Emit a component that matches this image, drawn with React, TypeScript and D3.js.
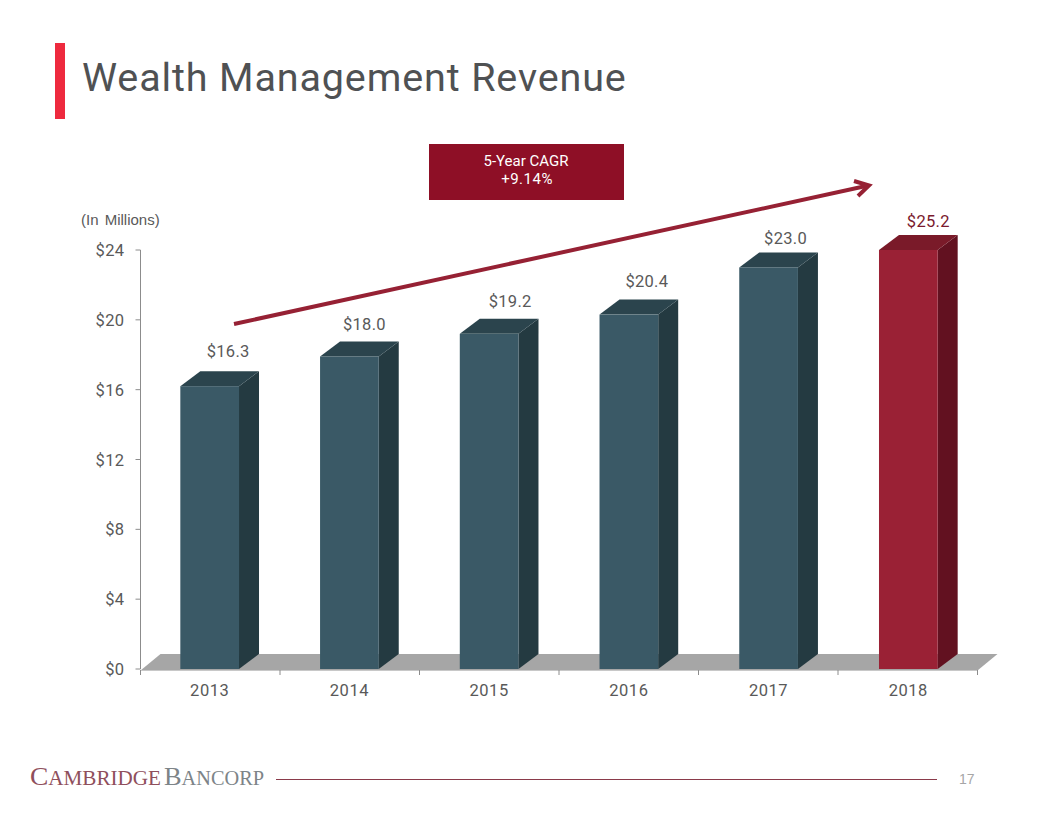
import React from "react";
import * as d3 from "d3";

const years = ["2013", "2014", "2015", "2016", "2017", "2018"];
const barValues = [16.2, 17.9, 19.2, 20.3, 23.0, 25.2];
const valueLabels = ["$16.3", "$18.0", "$19.2", "$20.4", "$23.0", "$25.2"];
const yTicks = [0, 4, 8, 12, 16, 20, 24];
const highlightYear = "2018";

const W = 1056, H = 816;
const FONT = "Roboto, 'Open Sans', sans-serif";
const TEXT = "#595959";

const x = d3.scaleBand<string>().domain(years).range([140.5, 977.5]).paddingInner(0.58).paddingOuter(0.285);
const y = d3.scaleLinear().domain([0, 24]).range([669, 250]).clamp(true);
const DX = 20, DY = 15;

// hand-placed label nudges, as on the slide
const labelShiftX = [18.5, 15, 21, 18, 17, 20];
const labelGap = [14, 11, 12, 13, 8, 8];

const poly = (pts: [number, number][]) => d3.line()(pts) + "Z";

const palette = {
  normal: { front: "#3a5966", top: "#2b444d", side: "#243a41" },
  hi: { front: "#9a2135", top: "#7a1a29", side: "#621120" },
};

export default function App() {
  const x0 = x.range()[0], x1 = x.range()[1], y0 = y(0);
  return (
    <svg width={W} height={H} style={{ position: "absolute", left: 0, top: 0, background: "#fff" }} fontFamily={FONT}>
      <rect x={55} y={43} width={10} height={76} fill="#ee2a3e" />
      <text x={82} y={91} fontSize={39.5} fill="#4f5153" letterSpacing={0.87}>Wealth Management Revenue</text>

      <rect x={429} y={144} width={195} height={56} fill="#8e0f26" />
      <text x={526} y={166} fontSize={15} fill="#fff" textAnchor="middle">5-Year CAGR</text>
      <text x={527} y={184} fontSize={15} fill="#fff" textAnchor="middle" letterSpacing={0.5}>+9.14%</text>

      <text x={81} y={225} fontSize={15} wordSpacing={2} fill={TEXT} fontFamily="'Liberation Sans', sans-serif">(In Millions)</text>

      {/* floor */}
      <path d={poly([[x0, y0 + 1.5], [x0 + DX, y0 - DY], [x1 + DX, y0 - DY], [x1, y0 + 1.5]])} fill="#a6a6a6" />

      {/* axes */}
      <line x1={x0} x2={x0} y1={y(24)} y2={y0} stroke="#8c8c8c" />
      <line x1={x0} x2={x1} y1={y0 + 1.5} y2={y0 + 1.5} stroke="#c8c8c8" />
      {yTicks.map(t => (
        <g key={t}>
          <line x1={x0 - 5} x2={x0} y1={y(t)} y2={y(t)} stroke="#8c8c8c" />
          <text x={x0 - 16} y={y(t) + 6} fontSize={16.5} fill={TEXT} textAnchor="end" letterSpacing={0.4}>{"$" + t}</text>
        </g>
      ))}
      {d3.range(7).map(i => {
        const px = x0 + (i * (x1 - x0)) / 6;
        return <line key={i} x1={px} x2={px} y1={y0 + 1} y2={y0 + 6} stroke="#8c8c8c" />;
      })}
      {years.map(yr => (
        <text key={yr} x={x(yr)! + x.bandwidth() / 2} y={696} fontSize={16.5} fill={TEXT} textAnchor="middle" letterSpacing={0.5}>{yr}</text>
      ))}

      {/* bars */}
      {years.map((yr, i) => {
        const bx = x(yr)!, bw = x.bandwidth(), top = y(barValues[i]);
        const c = yr === highlightYear ? palette.hi : palette.normal;
        return (
          <g key={yr}>
            <path d={poly([[bx + bw, top], [bx + bw + DX, top - DY], [bx + bw + DX, y0 - DY], [bx + bw, y0]])} fill={c.side} />
            <path d={poly([[bx, top], [bx + DX, top - DY], [bx + bw + DX, top - DY], [bx + bw, top]])} fill={c.top} />
            <rect x={bx} y={top} width={bw} height={y0 - top} fill={c.front} />
            <text x={bx + bw / 2 + labelShiftX[i]} y={top - DY - labelGap[i]}
              fontSize={16.5} textAnchor="middle" letterSpacing={0.3}
              fill={yr === highlightYear ? "#7a1a2e" : TEXT}>{valueLabels[i]}</text>
          </g>
        );
      })}

      {/* trend arrow */}
      <line x1={234} y1={324} x2={866} y2={186} stroke="#962134" strokeWidth={4} />
      <path d="M854,181 L869,185.5 L858,196" fill="none" stroke="#962134" strokeWidth={4} />

      {/* footer */}
      <text x={30} y={785} fontFamily="'Liberation Serif', serif" fontSize={26} fill="#8f4f5c" textLength={131} lengthAdjust="spacingAndGlyphs">
        C<tspan fontSize={20}>AMBRIDGE</tspan>
      </text>
      <text x={164} y={785} fontFamily="'Liberation Serif', serif" fontSize={26} fill="#7d8488" textLength={100} lengthAdjust="spacingAndGlyphs">
        B<tspan fontSize={20}>ANCORP</tspan>
      </text>
      <line x1={276} x2={937} y1={779.5} y2={779.5} stroke="#8a3a4a" />
      <text x={959} y={784} fontSize={14} fill="#a6a6a6" fontFamily="'Liberation Sans', sans-serif">17</text>
    </svg>
  );
}
